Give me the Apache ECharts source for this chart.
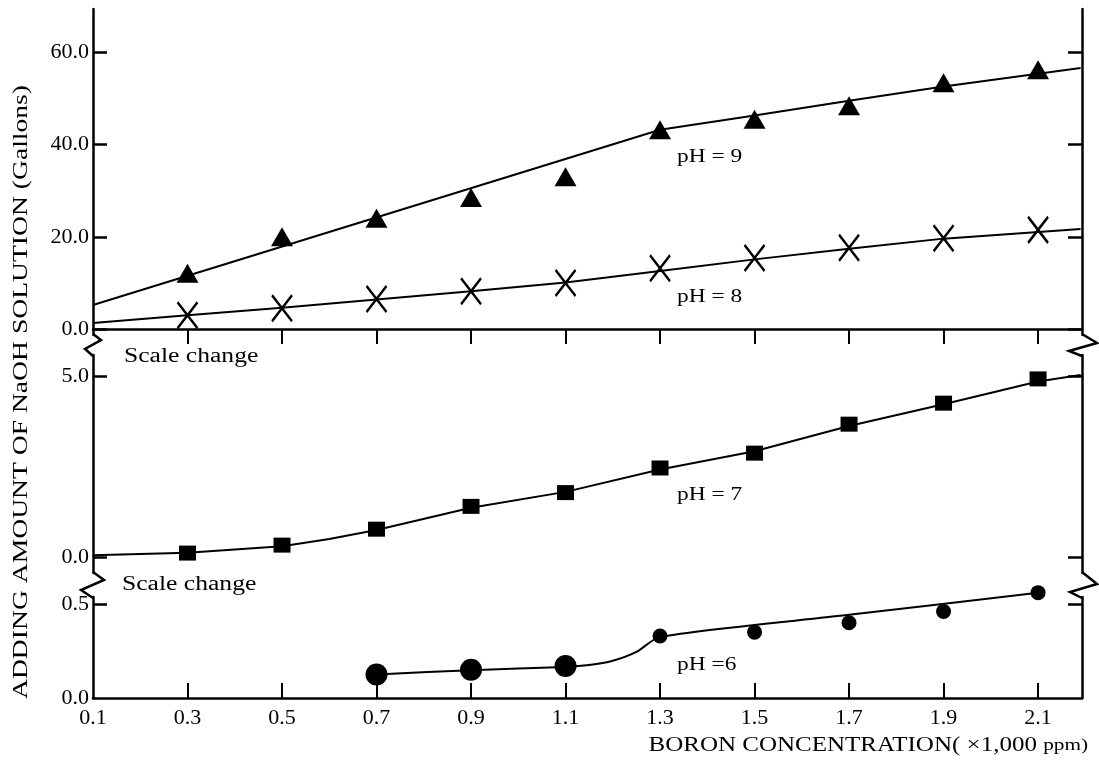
<!DOCTYPE html>
<html>
<head>
<meta charset="utf-8">
<script src="https://cdn.jsdelivr.net/npm/echarts@6/dist/echarts.min.js"></script>
<style>
    html, body { margin: 0; padding: 0; background: #fff; }
    #chart { width: 1099px; height: 763px; }
</style>
</head>
<body>
<div id="chart"></div>
<script>
// boron concentration (x1,000 ppm)
var boron = [0.3, 0.5, 0.7, 0.9, 1.1, 1.3, 1.5, 1.7, 1.9, 2.1];
var boronPH6 = [0.7, 0.9, 1.1, 1.3, 1.5, 1.7, 1.9, 2.1];
var xTickValues = [0.3, 0.5, 0.7, 0.9, 1.1, 1.3, 1.5, 1.7, 1.9, 2.1];
var xLabelValues = [0.1, 0.3, 0.5, 0.7, 0.9, 1.1, 1.3, 1.5, 1.7, 1.9, 2.1];

// measured NaOH amounts
var ph9 = [12.1, 20.0, 24.0, 28.5, 33.0, 43.2, 45.5, 48.4, 53.4, 56.2];
var ph8 = [3.0, 4.5, 6.5, 8.2, 10.0, 13.2, 15.4, 17.6, 19.7, 21.5];
var ph7 = [0.11, 0.33, 0.77, 1.40, 1.78, 2.46, 2.87, 3.67, 4.25, 4.92];
var ph6 = [0.125, 0.15, 0.17, 0.33, 0.35, 0.40, 0.46, 0.56];

// fitted curves
var fit9X = [0.1, 1.3, 1.5, 1.7, 1.9, 2.19];
var fit9Y = [5.2, 43.2, 46.3, 49.5, 52.6, 56.6];
var fit8X = [0.1, 0.3, 0.5, 0.7, 0.9, 1.1, 1.3, 1.5, 1.7, 1.9, 2.19];
var fit8Y = [1.3, 3.0, 4.6, 6.4, 8.2, 10.1, 12.6, 15.1, 17.4, 19.6, 21.7];
var fit7X = [0.1, 0.3, 0.5, 0.6, 0.7, 0.9, 1.1, 1.3, 1.5, 1.7, 1.9, 2.1, 2.19];
var fit7Y = [0.05, 0.12, 0.3, 0.5, 0.75, 1.36, 1.8, 2.42, 2.92, 3.62, 4.22, 4.85, 5.03];
var fit6X = [0.7, 0.9, 1.1, 1.15, 1.2, 1.25, 1.3, 1.7, 2.1];
var fit6Y = [0.125, 0.148, 0.165, 0.175, 0.198, 0.245, 0.325, 0.442, 0.56];

// y ticks of the three panels
var topTicks = [0, 20, 40, 60];
var midTicks = [0, 5];
var lowTicks = [0, 0.5];

var serif = '"Liberation Serif", "DejaVu Serif", serif';

function pairs(xs, ys) {
    return xs.map(function (x, i) { return [x, ys[i]]; });
}

function yPair(grid, min, max, ticks, labels) {
    var base = {
        gridIndex: grid,
        type: 'value',
        min: min,
        max: max,
        splitLine: { show: false },
        axisLine: { show: true, lineStyle: { color: '#000', width: 2.5 } },
        axisTick: { show: true, inside: true, length: 14, customValues: ticks, lineStyle: { color: '#000', width: 2.5 } }
    };
    var left = echarts.util.merge({
        position: 'left',
        axisLabel: {
            show: true, customValues: labels, margin: 4, color: '#000',
            fontFamily: serif, fontSize: 22,
            formatter: function (v) { return v.toFixed(1); }
        }
    }, base, true);
    var right = echarts.util.merge({
        position: 'right',
        axisLabel: { show: false }
    }, base, true);
    return [left, right];
}

function fitLine(xi, yi, data, smooth) {
    return {
        type: 'line', xAxisIndex: xi, yAxisIndex: yi, data: data,
        showSymbol: false, symbol: 'none', smooth: smooth || false,
        clip: false, silent: true,
        lineStyle: { color: '#000', width: 2 }
    };
}

var myChart = echarts.init(document.getElementById('chart'));

var axisX = {
    type: 'value', min: 0.1, max: 2.193,
    splitLine: { show: false },
    axisLine: { show: true, lineStyle: { color: '#000', width: 2.5 } },
    axisTick: { show: true, inside: true, length: 15, customValues: xTickValues, lineStyle: { color: '#000', width: 2 } }
};

var yAxes = [].concat(
    yPair(0, -1.3, 69.4, topTicks, topTicks),
    yPair(1, -0.44, 5.58, midTicks, midTicks),
    yPair(2, 0, 0.537, [0.5], lowTicks)
);

var zig = { stroke: '#000', lineWidth: 2.5, fill: null };
var mark = { color: '#000', opacity: 1 };

option = {
    backgroundColor: '#fff',
    animation: false,
    grid: [
        { left: 93, right: 17, top: 9, height: 326 },
        { left: 93, right: 17, top: 355, height: 218 },
        { left: 93, right: 17, top: 597, height: 101 }
    ],
    xAxis: [
        echarts.util.merge({ gridIndex: 0, position: 'top', axisLabel: { show: false } }, axisX, true),
        echarts.util.merge({ gridIndex: 1, show: false }, axisX, true),
        echarts.util.merge({
            gridIndex: 2, position: 'bottom',
            axisLabel: {
                show: true, customValues: xLabelValues, margin: 9, color: '#000',
                fontFamily: serif, fontSize: 22,
                formatter: function (v) { return v.toFixed(1); }
            }
        }, axisX, true)
    ],
    yAxis: yAxes,
    graphic: [
        // scale breaks on both sides
        { type: 'polyline', shape: { points: [[93, 334], [101, 340], [85, 349], [93, 356]] }, style: zig },
        { type: 'polyline', shape: { points: [[93, 572], [104, 580], [81, 590], [93, 598]] }, style: zig },
        { type: 'polyline', shape: { points: [[1082, 334], [1097, 343], [1069, 351], [1082, 356]] }, style: zig },
        { type: 'polyline', shape: { points: [[1082, 572], [1097, 584], [1070, 592], [1082, 598]] }, style: zig },
        { type: 'text', x: 124, y: 357, scaleX: 1.28, style: { text: 'Scale change', font: '20px ' + serif, fill: '#000', verticalAlign: 'middle' } },
        { type: 'text', x: 122, y: 585, scaleX: 1.28, style: { text: 'Scale change', font: '20px ' + serif, fill: '#000', verticalAlign: 'middle' } },
        { type: 'text', x: 677, y: 157, scaleX: 1.3, style: { text: 'pH = 9', font: '18px ' + serif, fill: '#000', verticalAlign: 'middle' } },
        { type: 'text', x: 677, y: 297, scaleX: 1.3, style: { text: 'pH = 8', font: '18px ' + serif, fill: '#000', verticalAlign: 'middle' } },
        { type: 'text', x: 677, y: 495, scaleX: 1.3, style: { text: 'pH = 7', font: '18px ' + serif, fill: '#000', verticalAlign: 'middle' } },
        { type: 'text', x: 677, y: 665, scaleX: 1.3, style: { text: 'pH =6', font: '18px ' + serif, fill: '#000', verticalAlign: 'middle' } },
        {
            type: 'text', x: 22, y: 392, rotation: Math.PI / 2, scaleX: 1.38,
            style: {
                text: 'ADDING AMOUNT OF NaOH SOLUTION (Gallons)', font: '20px ' + serif, fill: '#000',
                align: 'center', verticalAlign: 'middle'
            }
        },
        {
            type: 'text', x: 1088, y: 746, scaleX: 1.25,
            style: {
                text: '{a|BORON CONCENTRATION( ×1,000 }{b|ppm)}', fill: '#000',
                align: 'right', verticalAlign: 'middle',
                rich: {
                    a: { font: '20px ' + serif, fill: '#000' },
                    b: { font: '17px ' + serif, fill: '#000' }
                }
            }
        }
    ],
    series: [
        fitLine(0, 0, pairs(fit9X, fit9Y)),
        {
            type: 'scatter', xAxisIndex: 0, yAxisIndex: 0, data: pairs(boron, ph9),
            symbol: 'triangle', symbolSize: [22, 19], clip: false,
            itemStyle: mark
        },
        fitLine(0, 0, pairs(fit8X, fit8Y)),
        {
            type: 'scatter', xAxisIndex: 0, yAxisIndex: 0, data: pairs(boron, ph8),
            symbol: 'path://M0,0L20,26M20,0L0,26', symbolSize: [20, 26], clip: false,
            itemStyle: { color: 'none', borderColor: '#000', borderWidth: 2.5, opacity: 1 }
        },
        fitLine(1, 2, pairs(fit7X, fit7Y)),
        {
            type: 'scatter', xAxisIndex: 1, yAxisIndex: 2, data: pairs(boron, ph7),
            symbol: 'rect', symbolSize: [17, 15], clip: false,
            itemStyle: mark
        },
        fitLine(2, 4, pairs(fit6X, fit6Y), 0.25),
        {
            type: 'scatter', xAxisIndex: 2, yAxisIndex: 4, data: pairs(boronPH6, ph6),
            symbol: 'circle', clip: false,
            symbolSize: function (v, p) { return p.dataIndex < 3 ? 22 : 15; },
            itemStyle: mark
        }
    ]
};

if (option && typeof option === "object") {
    myChart.setOption(option, true);
    window.onresize = myChart.resize;
}
</script>
</body>
</html>
